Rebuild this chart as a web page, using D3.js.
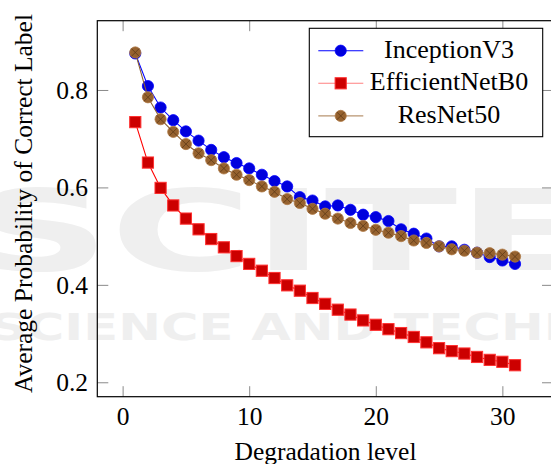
<!DOCTYPE html>
<html>
<head>
<meta charset="utf-8">
<script src="https://cdn.jsdelivr.net/npm/d3@7"></script>
<style>
  html, body { margin: 0; padding: 0; background: #fff; }
  svg { display: block; }
  .serif { font-family: "Liberation Serif", "DejaVu Serif", serif; }
</style>
</head>
<body>
<svg id="chart" width="551" height="464"></svg>
<script>
// Degradation levels on the x axis
const levels = [1, 2, 3, 4, 5, 6, 7, 8, 9, 10, 11, 12, 13, 14, 15, 16,
                17, 18, 19, 20, 21, 22, 23, 24, 25, 26, 27, 28, 29, 30, 31];

// Average probability of the correct label per model
const inceptionV3 = [0.875, 0.808, 0.764, 0.738, 0.715, 0.696, 0.677, 0.662, 0.650, 0.639,
                     0.626, 0.613, 0.602, 0.580, 0.573, 0.561, 0.563, 0.554, 0.544, 0.539,
                     0.531, 0.514, 0.505, 0.495, 0.479, 0.479, 0.472, 0.466, 0.457, 0.450, 0.443];
const efficientNetB0 = [0.734, 0.651, 0.599, 0.563, 0.536, 0.514, 0.494, 0.477, 0.459, 0.443,
                        0.429, 0.414, 0.399, 0.388, 0.373, 0.361, 0.349, 0.339, 0.327, 0.318,
                        0.309, 0.301, 0.293, 0.282, 0.270, 0.264, 0.259, 0.252, 0.246, 0.242, 0.235];
const resNet50 = [0.877, 0.785, 0.740, 0.714, 0.689, 0.670, 0.656, 0.639, 0.626, 0.615,
                  0.602, 0.591, 0.576, 0.568, 0.556, 0.546, 0.536, 0.527, 0.521, 0.513,
                  0.507, 0.500, 0.491, 0.486, 0.479, 0.473, 0.470, 0.466, 0.465, 0.462, 0.458];

const seriesNames = ["InceptionV3", "EfficientNetB0", "ResNet50"];
const xTicks = [0, 10, 20, 30];
const yTicks = [0.2, 0.4, 0.6, 0.8];

const svg = d3.select("#chart");

// Faint publisher watermark behind everything
const wm = svg.append("g").style("fill", "#efefef")
  .style("font-family", "\"DejaVu Sans\", sans-serif").style("font-weight", "bold");
wm.append("text").attr("x", -30).attr("y", 270).style("font-size", "112px")
  .attr("textLength", 620).attr("lengthAdjust", "spacingAndGlyphs").text("SCITE");
wm.append("text").attr("x", -10).attr("y", 340).style("font-size", "38px")
  .attr("textLength", 640).attr("lengthAdjust", "spacingAndGlyphs").text("SCIENCE AND TECHNO");

const plot = { left: 97.3, right: 553, top: 20.7, bottom: 396.7 };

const x = d3.scaleLinear().domain([-2, 34]).range([plot.left, plot.right]);
const y = d3.scaleLinear().domain([0.1704, 0.9422]).range([plot.bottom, plot.top]);

// Axes with inward ticks
const gx = svg.append("g").attr("transform", `translate(0,${plot.bottom})`)
  .call(d3.axisBottom(x).tickValues(xTicks).tickFormat(d3.format("d"))
    .tickSizeInner(-10.5).tickSizeOuter(0).tickPadding(10.5));
const gy = svg.append("g").attr("transform", `translate(${plot.left},0)`)
  .call(d3.axisLeft(y).tickValues(yTicks).tickFormat(d3.format(".1f"))
    .tickSizeInner(-11).tickSizeOuter(0).tickPadding(9.3));
// Mirrored ticks on top and right
const gxTop = svg.append("g").attr("transform", `translate(0,${plot.top})`)
  .call(d3.axisTop(x).tickValues(xTicks).tickFormat("").tickSizeInner(-10.5).tickSizeOuter(0));
const gyRight = svg.append("g").attr("transform", `translate(${plot.right},0)`)
  .call(d3.axisRight(y).tickValues(yTicks).tickFormat("").tickSizeInner(-11).tickSizeOuter(0));

[gx, gy, gxTop, gyRight].forEach(g => {
  g.attr("font-family", null).attr("font-size", null);
  g.select(".domain").remove();
  g.selectAll(".tick line").attr("stroke", "#8a8a8a").attr("stroke-width", 1);
  g.selectAll(".tick text").attr("class", "serif").style("font-size", "25.5px").attr("fill", "#000");
});

// Frame
svg.append("rect")
  .attr("x", plot.left).attr("y", plot.top)
  .attr("width", plot.right - plot.left).attr("height", plot.bottom - plot.top)
  .attr("fill", "none").attr("stroke", "#000").attr("stroke-width", 1.2);

// Axis titles
svg.append("text").attr("class", "serif").attr("x", 325.5).attr("y", 459.5).attr("text-anchor", "middle")
  .style("font-size", "25.5px").text("Degradation level");
svg.append("text").attr("class", "serif").attr("transform", "translate(31.5,203.5) rotate(-90)")
  .attr("text-anchor", "middle").style("font-size", "25.5px").text("Average Probability of Correct Label");

const line = d3.line().x((d, i) => x(levels[i])).y(d => y(d));

const styles = {
  InceptionV3: { line: "#0000ff", fill: "#0000dd", stroke: "#0000ff", mark: "circle" },
  EfficientNetB0: { line: "#ff0000", fill: "#cc0000", stroke: "#ff3030", mark: "square" },
  ResNet50: { line: "#8c6033", fill: "#96622f", stroke: "#b07a45", mark: "otimes" }
};

function drawMark(g, kind, cx, cy, st) {
  if (kind === "circle") {
    g.append("circle").attr("cx", cx).attr("cy", cy).attr("r", 5.6)
      .attr("fill", st.fill).attr("stroke", st.stroke).attr("stroke-width", 0.8);
  } else if (kind === "square") {
    g.append("rect").attr("x", cx - 5.6).attr("y", cy - 5.6).attr("width", 11.2).attr("height", 11.2)
      .attr("fill", st.fill).attr("stroke", st.stroke).attr("stroke-width", 1);
  } else {
    const r = 5.6, k = r * Math.SQRT1_2;
    g.append("circle").attr("cx", cx).attr("cy", cy).attr("r", r)
      .attr("fill", st.fill).attr("stroke", st.stroke).attr("stroke-width", 0.8);
    g.append("path")
      .attr("d", `M${cx - k},${cy - k}L${cx + k},${cy + k}M${cx - k},${cy + k}L${cx + k},${cy - k}`)
      .attr("stroke", "#5e3a16").attr("stroke-width", 0.8);
  }
}

const seriesData = { InceptionV3: inceptionV3, EfficientNetB0: efficientNetB0, ResNet50: resNet50 };

seriesNames.forEach(name => {
  const st = styles[name];
  const vals = seriesData[name];
  const g = svg.append("g");
  g.append("path").datum(vals).attr("d", line)
    .attr("fill", "none").attr("stroke", st.line).attr("stroke-width", 1.1);
  vals.forEach((v, i) => drawMark(g, st.mark, x(levels[i]), y(v), st));
});

// Legend
const legend = svg.append("g");
legend.append("rect").attr("x", 309.3).attr("y", 28.3).attr("width", 233.4).attr("height", 108.4)
  .attr("fill", "#fff").attr("stroke", "#000").attr("stroke-width", 1.1);
const legendLine = { ResNet50: "#b89470", EfficientNetB0: "#ff8080", InceptionV3: "#0000ff" };
seriesNames.forEach((name, i) => {
  const cy = 50.7 + i * 32.6;
  const st = styles[name];
  legend.append("line").attr("x1", 318.3).attr("x2", 363.3).attr("y1", cy).attr("y2", cy)
    .attr("stroke", legendLine[name]).attr("stroke-width", 1.1);
  drawMark(legend, st.mark, 340.7, cy, st);
  legend.append("text").attr("class", "serif").attr("x", 449).attr("y", cy + 6.8)
    .attr("text-anchor", "middle").style("font-size", "26px").text(name);
});
</script>
</body>
</html>
